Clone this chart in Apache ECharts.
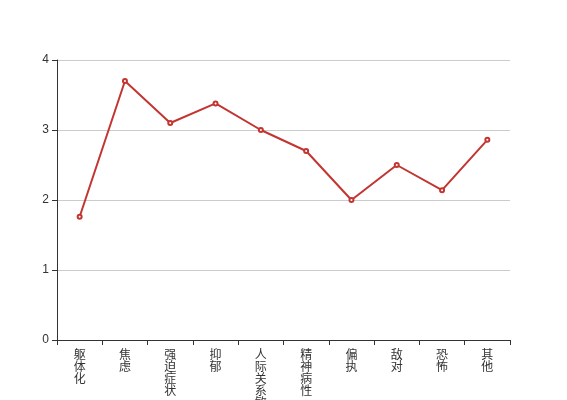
<!DOCTYPE html>
<html><head><meta charset="utf-8">
<script src="https://cdn.jsdelivr.net/npm/echarts@6/dist/echarts.min.js"></script>
<style>html,body{margin:0;padding:0;background:#fff}#c{width:567px;height:400px}</style>
</head><body><div id="c"></div>
<script>
var categories = ['躯体化','焦虑','强迫症状','抑郁','人际关系敏感','精神病性','偏执','敌对','恐怖','其他'];
var values = [1.76, 3.70, 3.10, 3.38, 3.00, 2.70, 2.00, 2.50, 2.14, 2.86];
var yTicks = [0, 1, 2, 3, 4];
var chart = echarts.init(document.getElementById('c'));
chart.setOption({
  animation: false,
  grid: {left: 57, right: 57, top: 60, bottom: 60, containLabel: false, outerBoundsMode: 'none'},
  xAxis: {
    type: 'category', data: categories, boundaryGap: true,
    axisLine: {lineStyle: {color: '#333'}},
    axisTick: {show: true, alignWithLabel: false, interval: 0, lineStyle: {color: '#333'}},
    axisLabel: {color: '#333', fontSize: 12, lineHeight: 12, margin: 8, interval: 0,
      fontFamily: 'Noto Sans CJK SC',
      formatter: function (v) { return v.split('').join('\n'); }}
  },
  yAxis: {
    type: 'value', min: yTicks[0], max: yTicks[yTicks.length-1], interval: 1,
    axisLine: {show: true, lineStyle: {color: '#333'}},
    axisTick: {show: true, lineStyle: {color: '#333'}},
    axisLabel: {color: '#333', fontSize: 12, fontFamily: 'Liberation Sans'},
    splitLine: {lineStyle: {color: '#ccc'}}
  },
  series: [{
    type: 'line', data: values, symbol: 'emptyCircle', symbolSize: 4,
    lineStyle: {width: 2, color: '#c23531'}, itemStyle: {color: '#c23531'}
  }]
});
</script></body></html>
